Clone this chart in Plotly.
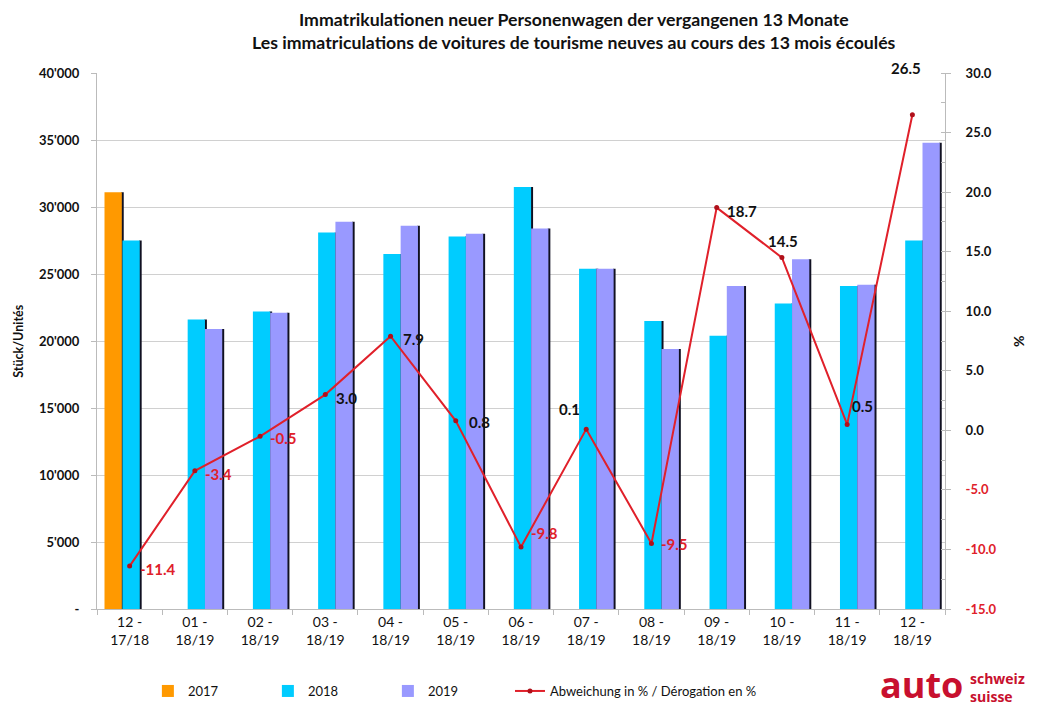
import plotly.graph_objects as go

categories = ["12 -<br>17/18", "01 -<br>18/19", "02 -<br>18/19", "03 -<br>18/19", "04 -<br>18/19",
              "05 -<br>18/19", "06 -<br>18/19", "07 -<br>18/19", "08 -<br>18/19", "09 -<br>18/19",
              "10 -<br>18/19", "11 -<br>18/19", "12 -<br>18/19"]
v2017 = [31100, None, None, None, None, None, None, None, None, None, None, None, None]
v2018 = [27500, 21600, 22200, 28100, 26500, 27800, 31500, 25400, 21500, 20400, 22800, 24100, 27500]
v2019 = [None, 20900, 22100, 28900, 28600, 28000, 28400, 25400, 19400, 24100, 26100, 24200, 34800]
pct = [-11.4, -3.4, -0.5, 3.0, 7.9, 0.8, -9.8, 0.1, -9.5, 18.7, 14.5, 0.5, 26.5]

left_ticks = [0, 5000, 10000, 15000, 20000, 25000, 30000, 35000, 40000]
left_text = ["-", "5'000", "10'000", "15'000", "20'000", "25'000", "30'000", "35'000", "40'000"]
right_ticks = [-15, -10, -5, 0, 5, 10, 15, 20, 25, 30]

title_lines = ["Immatrikulationen neuer Personenwagen der vergangenen 13 Monate",
               "Les immatriculations de voitures de tourisme neuves au cours des 13 mois écoulés"]

# label placement styles (xanchor, xshift, yshift)
label_style = [("left", 8, -3), ("left", 8, -3), ("left", 8, -2), ("left", 9, -3), ("left", 10, -3),
               ("left", 11, -1), ("left", 8, 14), ("center", -17, 20), ("left", 8, -1),
               ("left", 8, -3), ("center", 1, 17), ("left", 3, 18), ("center", -6, 47)]

C17, C18, C19 = "#FF9900", "#00CCFF", "#9999FF"
RED = "#E0202A"
W = 0.265
offs = {"2017": -0.385, "2018": -0.11, "2019": 0.155}

fig = go.Figure()
for name, vals, col in [("2017", v2017, C17), ("2018", v2018, C18), ("2019", v2019, C19)]:
    # shadow
    fig.add_trace(go.Bar(x=categories, y=vals, offset=offs[name] + W - 0.01, width=0.04,
                         marker=dict(color="#111122", line=dict(width=0)), showlegend=False,
                         hoverinfo="skip"))
    fig.add_trace(go.Bar(x=categories, y=vals, offset=offs[name], width=W, name=name,
                         marker=dict(color=col, line=dict(width=0)), legend="legend"))

fig.add_trace(go.Scatter(x=categories, y=pct, yaxis="y2", mode="lines+markers",
                         name="Abweichung in % / Dérogation en %",
                         line=dict(color=RED, width=2),
                         marker=dict(color="#B0101A", size=5), legend="legend2"))

for i, (c, v) in enumerate(zip(categories, pct)):
    xa, xs, ys = label_style[i]
    fig.add_annotation(x=c, y=v, yref="y2", text=f"<b>{v:.1f}</b>", showarrow=False,
                       xanchor=xa, yanchor="middle", xshift=xs, yshift=ys,
                       font=dict(size=15, color=RED if v < 0 else "#111111", family="Lato"))

right_text = []
for t in right_ticks:
    s = f"{t:.1f}"
    if t < 0:
        right_text.append(f"<span style='color:{RED}'>{s}</span>")
    else:
        right_text.append(s)

# page body has an 8px margin: the figure is placed at (8, 8)
fig.update_layout(
    width=1051, height=701,
    margin=dict(l=89, r=114, t=65, b=100, autoexpand=False),
    paper_bgcolor="white", plot_bgcolor="white",
    barmode="overlay",
    font=dict(family="Lato", color="#111111"),
    xaxis=dict(type="category", range=[-0.5, len(categories) - 0.5],
               showline=True, linecolor="#BBBBBB", linewidth=1,
               ticks="outside", ticklen=5, tickcolor="#BBBBBB", tickson="boundaries",
               tickfont=dict(size=14, family="Lato", color="#111111"), showgrid=False),
    yaxis=dict(range=[0, 40000], tickvals=left_ticks, ticktext=left_text,
               showline=True, linecolor="#BBBBBB", ticks="outside", ticklen=5, tickcolor="#BBBBBB",
               showgrid=True, gridcolor="#D0D0D0", gridwidth=1, ticklabelstandoff=9,
               tickfont=dict(size=13, family="Lato", color="#111111", weight="bold")),
    yaxis2=dict(range=[-15, 30], overlaying="y", side="right", tickvals=right_ticks,
                ticktext=right_text, showline=True, linecolor="#BBBBBB",
                ticks="outside", ticklen=5, tickcolor="#BBBBBB", showgrid=False, zeroline=False,
                minor=dict(dtick=2.5, ticks="inside", ticklen=4, tickcolor="#BBBBBB"),
                ticklabelstandoff=12,
                tickfont=dict(size=13, family="Lato", color="#111111", weight="bold")),
    legend=dict(orientation="h", x=0.06, y=-0.153, xanchor="left", yanchor="middle",
                entrywidth=75, font=dict(size=13, family="Lato", color="#111111"),
                traceorder="normal", bgcolor="rgba(0,0,0,0)"),
    legend2=dict(orientation="h", x=0.487, y=-0.153, xanchor="left", yanchor="middle",
                 font=dict(size=13, family="Lato", color="#111111"), bgcolor="rgba(0,0,0,0)"),
    bargap=0.2,
)

for txt, yy in zip(title_lines, [1.1, 1.0578]):
    fig.add_annotation(xref="paper", yref="paper", x=0.5625, y=yy, text=f"<b>{txt}</b>",
                       showarrow=False, xanchor="center", yanchor="middle",
                       font=dict(size=17.7, family="Lato", color="#111111"))

fig.add_annotation(xref="paper", yref="paper", x=-0.0935, y=0.5, text="<b>Stück/Unités</b>",
                   textangle=-90, showarrow=False, xanchor="center", yanchor="middle",
                   font=dict(size=12.5, family="Lato", color="#111111"))
fig.add_annotation(xref="paper", yref="paper", x=1.086, y=0.5, text="<b>%</b>",
                   textangle=-90, showarrow=False, xanchor="center", yanchor="middle",
                   font=dict(size=14, family="Lato", color="#111111"))

fig.add_annotation(xref="paper", yref="paper", x=1.0236, y=-0.14, text="<b>auto</b>",
                   showarrow=False, xanchor="right", yanchor="middle",
                   font=dict(size=36, color="#C8102E", family="Open Sans"))
fig.add_annotation(xref="paper", yref="paper", x=1.027, y=-0.146, text="<b>schweiz<br>suisse</b>",
                   showarrow=False, xanchor="left", yanchor="middle", align="left",
                   font=dict(size=14, color="#C8102E", family="Open Sans"))

fig.write_html("out.html")
